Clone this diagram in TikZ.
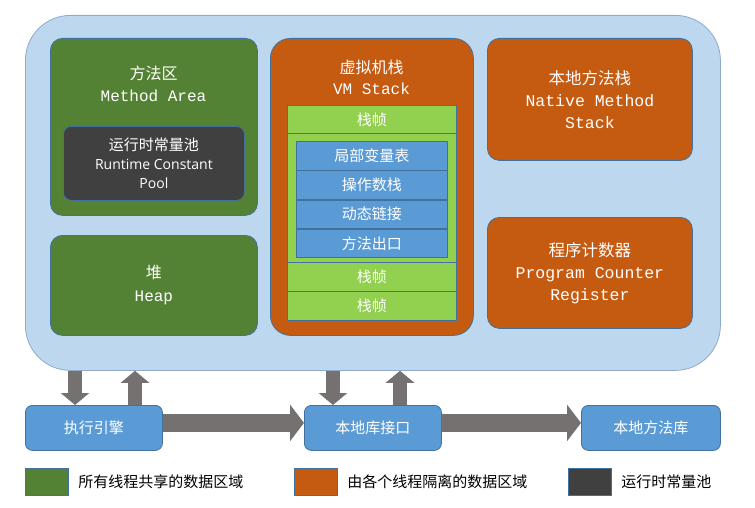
\documentclass[tikz,border=0pt]{standalone}
\usepackage{fontspec}
\setmainfont{Open Sans}
\newfontfamily\cjk{Noto Sans CJK SC}
\newfontfamily\mono{Liberation Mono}
\usetikzlibrary{arrows.meta,positioning,calc}
\definecolor{bgblue}{HTML}{BDD7EE}
\definecolor{bgline}{HTML}{8FAACC}
\definecolor{shgreen}{HTML}{548235}
\definecolor{isoor}{HTML}{C55A11}
\definecolor{dkgray}{HTML}{404040}
\definecolor{lgreen}{HTML}{92D050}
\definecolor{mblue}{HTML}{5B9BD5}
\definecolor{arr}{HTML}{767171}
\definecolor{edge}{HTML}{41719C}
\begin{document}
\begin{tikzpicture}[x=1pt,y=-1pt,
  box/.style={draw=edge,line width=0.8pt,rounded corners=12pt,text=white,align=center,inner sep=0pt},
  cell/.style={draw=edge,line width=0.8pt,text=white,align=center,inner sep=0pt},
  cn/.style={font=\cjk\fontsize{15}{19}\selectfont},
  va/.style={draw=arr,line width=14pt,-{Triangle[width=28pt,length=12pt]}},
  ha/.style={draw=arr,line width=18pt,-{Triangle[width=36pt,length=14pt]}},
  leg/.style={draw=edge,line width=0.8pt,minimum width=43pt,minimum height=27pt,inner sep=0pt},
  legt/.style={font=\cjk\fontsize{15}{19}\selectfont,anchor=west,text=black}]
\useasboundingbox (0,0) rectangle (755,508);
\node[draw=bgline,line width=0.8pt,fill=bgblue,rounded corners=45pt,minimum width=695pt,minimum height=355pt,anchor=north west,inner sep=0pt] (main) at (25,15) {};
% Method area
\node[box,fill=shgreen,minimum width=207pt,minimum height=177pt,anchor=north west] (ma) at (50,38) {};
\node[text=white,align=center,anchor=north,inner sep=0pt,font=\fontsize{16}{22}\selectfont] (mat) at (153.5,66) {{\cjk 方法区}\\{\mono Method Area}};
\node[box,fill=dkgray,rounded corners=8pt,minimum width=181pt,minimum height=74pt,anchor=north west,font=\fontsize{14}{19}\selectfont] (rcp) at (63,126) {{\cjk\fontsize{15}{19}\selectfont 运行时常量池}\\Runtime Constant\\Pool};
% Heap
\node[box,fill=shgreen,minimum width=207pt,minimum height=100pt,anchor=north west,font=\fontsize{16}{23}\selectfont] (heap) at (50,235) {{\cjk 堆}\\{\mono Heap}};
% VM stack
\node[box,fill=isoor,rounded corners=20pt,minimum width=203pt,minimum height=297pt,anchor=north west] (vm) at (270,38) {};
\node[text=white,align=center,anchor=north,inner sep=0pt,font=\fontsize{16}{21}\selectfont] (vmt) at (371.5,60) {{\cjk 虚拟机栈}\\{\mono VM Stack}};
\node[cell,fill=lgreen,cn,minimum width=169pt,minimum height=28pt,anchor=north west] (f1) at (287,105) {栈帧};
\node[cell,fill=lgreen,minimum width=169pt,minimum height=129pt,anchor=north west] (f2) at (287,133) {};
\node[cell,fill=lgreen,cn,minimum width=169pt,minimum height=29pt,anchor=north west] (f3) at (287,262) {栈帧};
\node[cell,fill=lgreen,cn,minimum width=169pt,minimum height=29pt,anchor=north west] (f4) at (287,291) {栈帧};
\node[cell,fill=mblue,cn,minimum width=151pt,minimum height=28.5pt,anchor=north west] (b1) at (296,141) {局部变量表};
\node[cell,fill=mblue,cn,minimum width=151pt,minimum height=28.5pt,anchor=north] (b2) at (b1.south) {操作数栈};
\node[cell,fill=mblue,cn,minimum width=151pt,minimum height=28.5pt,anchor=north] (b3) at (b2.south) {动态链接};
\node[cell,fill=mblue,cn,minimum width=151pt,minimum height=28.5pt,anchor=north] (b4) at (b3.south) {方法出口};
% Native / PC
\node[box,fill=isoor,minimum width=205pt,minimum height=122pt,anchor=north west,font=\fontsize{16.5}{22}\selectfont] (nms) at (487,38) {{\cjk 本地方法栈}\\{\mono Native Method}\\{\mono Stack}};
\node[box,fill=isoor,minimum width=205pt,minimum height=111pt,anchor=north west,font=\fontsize{16.5}{22}\selectfont] (pc) at (487,217) {{\cjk 程序计数器}\\{\mono Program Counter}\\{\mono Register}};
% bottom boxes
\node[box,fill=mblue,cn,rounded corners=7pt,minimum width=137pt,minimum height=45pt,anchor=north west] (exec) at (25,405) {执行引擎};
\node[box,fill=mblue,cn,rounded corners=7pt,minimum width=137pt,minimum height=45pt,anchor=north west] (jni) at (304,405) {本地库接口};
\node[box,fill=mblue,cn,rounded corners=7pt,minimum width=139pt,minimum height=45pt,anchor=north west] (lib) at (581,405) {本地方法库};
% arrows
\draw[va] ([xshift=50pt]exec.north west |- main.south) -- ([xshift=50pt]exec.north west);
\draw[va] ([xshift=110pt]exec.north west) -- ([xshift=110pt]exec.north west |- main.south);
\draw[va] ([xshift=29pt]jni.north west |- main.south) -- ([xshift=29pt]jni.north west);
\draw[va] ([xshift=96pt]jni.north west) -- ([xshift=96pt]jni.north west |- main.south);
\draw[ha] ([yshift=5pt]exec.east) -- ([yshift=5pt]jni.west);
\draw[ha] ([yshift=5pt]jni.east) -- ([yshift=5pt]lib.west);
% legend
\node[leg,fill=shgreen,anchor=north west] (l1) at (25,468) {};
\node[legt,right=6pt of l1] (l1t) {所有线程共享的数据区域};
\node[leg,fill=isoor,anchor=north west] (l2) at (294,468) {};
\node[legt,right=6pt of l2] (l2t) {由各个线程隔离的数据区域};
\node[leg,fill=dkgray,anchor=north west] (l3) at (568,468) {};
\node[legt,right=6pt of l3] (l3t) {运行时常量池};
\end{tikzpicture}
\end{document}
